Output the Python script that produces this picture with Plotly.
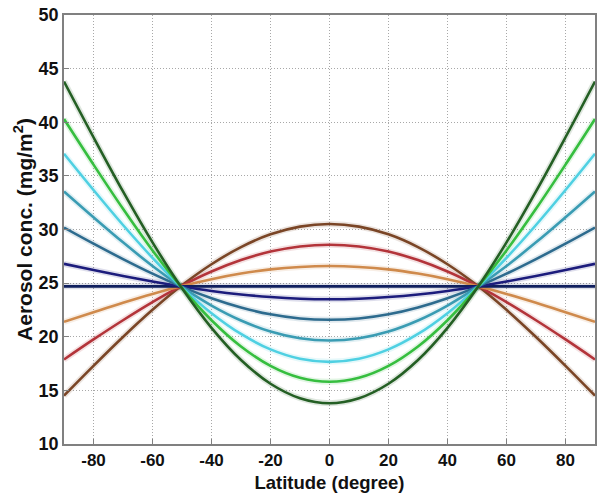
import plotly.graph_objects as go

# Latitude grid (degrees)
latitude = [-90, -80, -70, -60, -50, -40, -30, -20, -10, 0,
            10, 20, 30, 40, 50, 60, 70, 80, 90]

# Aerosol column concentration (mg/m^2) for each distribution case
conc_dark_green = [43.80, 38.60, 33.55, 28.80, 24.52, 20.83, 17.83, 15.62, 14.27, 13.80,
                   14.27, 15.62, 17.83, 20.83, 24.52, 28.80, 33.55, 38.60, 43.80]
conc_green = [40.30, 36.05, 31.93, 28.05, 24.55, 21.54, 19.09, 17.28, 16.17, 15.80,
              16.17, 17.28, 19.09, 21.54, 24.55, 28.05, 31.93, 36.05, 40.30]
conc_cyan = [37.06, 33.68, 30.42, 27.36, 24.58, 22.20, 20.26, 18.82, 17.95, 17.66,
             17.95, 18.82, 20.26, 22.20, 24.58, 27.36, 30.42, 33.68, 37.06]
conc_teal = [33.55, 31.14, 28.80, 26.60, 24.62, 22.91, 21.52, 20.49, 19.86, 19.65,
             19.86, 20.49, 21.52, 22.91, 24.62, 26.60, 28.80, 31.14, 33.55]
conc_steel = [30.18, 28.68, 27.24, 25.88, 24.65, 23.59, 22.73, 22.09, 21.70, 21.58,
              21.70, 22.09, 22.73, 23.59, 24.65, 25.88, 27.24, 28.68, 30.18]
conc_navy = [26.80, 26.23, 25.67, 25.15, 24.68, 24.27, 23.94, 23.70, 23.55, 23.50,
             23.55, 23.70, 23.94, 24.27, 24.68, 25.15, 25.67, 26.23, 26.80]
conc_uniform = [24.70] * 19
conc_orange = [21.39, 22.29, 23.17, 23.99, 24.73, 25.37, 25.89, 26.28, 26.51, 26.59,
               26.51, 26.28, 25.89, 25.37, 24.73, 23.99, 23.17, 22.29, 21.39]
conc_red = [17.88, 19.75, 21.54, 23.23, 24.76, 26.08, 27.15, 27.94, 28.42, 28.58,
            28.42, 27.94, 27.15, 26.08, 24.76, 23.23, 21.54, 19.75, 17.88]
conc_brown = [14.51, 17.29, 19.98, 22.51, 24.80, 26.76, 28.36, 29.55, 30.27, 30.51,
              30.27, 29.55, 28.36, 26.76, 24.80, 22.51, 19.98, 17.29, 14.51]

x_ticks = [-80, -60, -40, -20, 0, 20, 40, 60, 80]
y_ticks = [10, 15, 20, 25, 30, 35, 40, 45, 50]

series = [
    (conc_brown, "#7a4526"),
    (conc_red, "#b3343a"),
    (conc_orange, "#cf8a4c"),
    (conc_uniform, "#0f1f5e"),
    (conc_navy, "#1c1c7c"),
    (conc_steel, "#2d6b8e"),
    (conc_teal, "#3a9cb3"),
    (conc_cyan, "#4fd0e2"),
    (conc_green, "#36be3f"),
    (conc_dark_green, "#245f24"),
]

fig = go.Figure()

# soft coloured halo under each curve
for values, color in series:
    fig.add_trace(go.Scatter(
        x=latitude, y=values, mode="lines",
        line=dict(color=color, width=6, shape="spline", smoothing=1.0),
        opacity=0.14, hoverinfo="skip", showlegend=False,
    ))

for values, color in series:
    fig.add_trace(go.Scatter(
        x=latitude, y=values, mode="lines",
        line=dict(color=color, width=2.6, shape="spline", smoothing=1.0),
        showlegend=False,
    ))

FONT = "Liberation Sans, Arial, sans-serif"
tick_font = dict(family=FONT, size=17, color="#111111")

fig.update_layout(
    width=597, height=500,
    margin=dict(l=64, r=0, t=15, b=56),
    paper_bgcolor="white", plot_bgcolor="white",
    font=dict(family=FONT, color="#111111"),
    xaxis=dict(
        range=[-90, 90], tickvals=x_ticks,
        ticktext=[f"<b>{v}</b>" for v in x_ticks],
        tickfont=tick_font,
        showgrid=True, gridcolor="#a8a8a8", griddash="1px,2px", gridwidth=1,
        showline=True, linecolor="#808080", linewidth=1.5, mirror=True,
        ticks="inside", ticklen=5, tickcolor="#808080",
        zeroline=False,
        title=dict(text="<b>Latitude (degree)</b>",
                   font=dict(family=FONT, size=18.5, color="#111111"), standoff=7),
    ),
    yaxis=dict(
        range=[10, 50], tickvals=y_ticks,
        ticktext=[f"<b>{v}</b>" for v in y_ticks],
        tickfont=dict(family=FONT, size=18, color="#111111"),
        showgrid=True, gridcolor="#a8a8a8", griddash="1px,2px", gridwidth=1,
        showline=True, linecolor="#808080", linewidth=1.5, mirror=True,
        ticks="inside", ticklen=5, tickcolor="#808080",
        zeroline=False,
        title=dict(text="<b>Aerosol conc. (mg/m<sup>2</sup>)</b>",
                   font=dict(family=FONT, size=21, color="#111111"), standoff=0),
    ),
)

fig.write_html("out.html")
